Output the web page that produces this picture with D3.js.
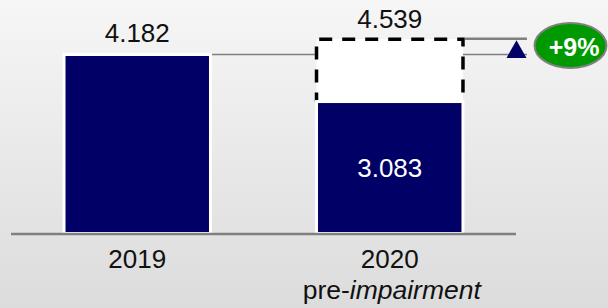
<!DOCTYPE html>
<html>
<head>
<meta charset="utf-8">
<script src="https://cdn.jsdelivr.net/npm/d3@7"></script>
<style>
  body { margin: 0; padding: 0; overflow: hidden; }
  svg { display: block; font-family: "Liberation Sans", Arial, sans-serif; }
</style>
</head>
<body>
<div id="chart"></div>
<script>
const years = ["2019", "2020"];
const reported = [4.182, 3.083];
const preImpairment = [null, 4.539];
const valueLabels = ["4.182", "3.083"];
const preLabel = "4.539";
const growthLabel = "+9%";

const width = 608;
const height = 308;

const svg = d3.select("#chart")
    .append("svg")
    .attr("width", width)
    .attr("height", height);

// background gradient
const grad = svg.append("defs").append("linearGradient")
    .attr("id", "bg")
    .attr("x1", 0).attr("y1", 0).attr("x2", 0).attr("y2", 1);
grad.append("stop").attr("offset", "0%").attr("stop-color", "#f6f6f6");
grad.append("stop").attr("offset", "100%").attr("stop-color", "#dcdcdc");

svg.append("rect")
    .attr("width", width)
    .attr("height", height)
    .attr("fill", "url(#bg)");

const xScale = d3.scaleBand()
    .domain(years)
    .range([11, 516])
    .paddingInner(0.42)
    .paddingOuter(0.21);

const yScale = d3.scaleLinear()
    .domain([0, 4.182])
    .range([233.5, 54.5]);

const bw = xScale.bandwidth();
const lineEnd = xScale("2020") + bw + 64;

// reference line at 2019 level
svg.append("line")
    .attr("x1", xScale("2019") + bw)
    .attr("x2", lineEnd)
    .attr("y1", yScale(reported[0]))
    .attr("y2", yScale(reported[0]))
    .attr("stroke", "#808080")
    .attr("stroke-width", 1.4);

// impairment box: white fill, dashed outline on three sides
const bx0 = xScale("2020");
const bx1 = bx0 + bw;
const by0 = yScale(preImpairment[1]);
const by1 = yScale(reported[1]);

svg.append("rect")
    .attr("x", bx0)
    .attr("y", by0)
    .attr("width", bw)
    .attr("height", by1 - by0)
    .attr("fill", "#fff");

svg.append("path")
    .attr("d", `M${bx0},${by1} L${bx0},${by0} L${bx1},${by0} L${bx1},${by1}`)
    .attr("fill", "none")
    .attr("stroke", "#000")
    .attr("stroke-width", 3.5)
    .attr("stroke-dasharray", "13,10")
    .attr("stroke-dashoffset", 4);

// bars
svg.selectAll("rect.bar")
    .data(years)
    .enter()
    .append("rect")
    .attr("class", "bar")
    .attr("x", d => xScale(d))
    .attr("y", (d, i) => yScale(reported[i]))
    .attr("width", bw)
    .attr("height", (d, i) => yScale(0) - yScale(reported[i]))
    .attr("fill", "#000066")
    .attr("stroke", "#fff")
    .attr("stroke-width", 3);

// axis baseline
svg.append("line")
    .attr("x1", xScale.range()[0])
    .attr("x2", xScale.range()[1])
    .attr("y1", yScale(0) + 0.5)
    .attr("y2", yScale(0) + 0.5)
    .attr("stroke", "#808080")
    .attr("stroke-width", 2.4);

// reference line at 2020 pre-impairment level
svg.append("line")
    .attr("x1", bx1 + 2)
    .attr("x2", lineEnd)
    .attr("y1", by0 - 0.5)
    .attr("y2", by0 - 0.5)
    .attr("stroke", "#808080")
    .attr("stroke-width", 2.4);

// up triangle
const triX = lineEnd - 10.5;
const triTop = by0 + 1;
const triBottom = yScale(reported[0]) + 3.5;
svg.append("path")
    .attr("d", `M${triX},${triTop} L${triX + 10},${triBottom} L${triX - 10},${triBottom} Z`)
    .attr("fill", "#000066");

// growth badge
svg.append("ellipse")
    .attr("cx", 570.5)
    .attr("cy", 45.5)
    .attr("rx", 36)
    .attr("ry", 22.5)
    .attr("fill", "#009900")
    .attr("stroke", "#808080")
    .attr("stroke-width", 2);

svg.append("text")
    .attr("x", 574)
    .attr("y", 56)
    .attr("text-anchor", "middle")
    .style("font-size", "25px")
    .style("font-weight", "bold")
    .style("fill", "#fff")
    .text(growthLabel);

// value labels
svg.append("text")
    .attr("x", xScale("2019") + bw / 2)
    .attr("y", 42)
    .attr("text-anchor", "middle")
    .style("font-size", "26px")
    .style("fill", "#111")
    .text(valueLabels[0]);

svg.append("text")
    .attr("x", bx0 + bw / 2)
    .attr("y", 28)
    .attr("text-anchor", "middle")
    .style("font-size", "26px")
    .style("fill", "#111")
    .text(preLabel);

svg.append("text")
    .attr("x", bx0 + bw / 2)
    .attr("y", 177)
    .attr("text-anchor", "middle")
    .style("font-size", "26px")
    .style("fill", "#fff")
    .text(valueLabels[1]);

// category labels
svg.selectAll("text.cat")
    .data(years)
    .enter()
    .append("text")
    .attr("class", "cat")
    .attr("x", d => xScale(d) + bw / 2)
    .attr("y", 268)
    .attr("text-anchor", "middle")
    .style("font-size", "26px")
    .style("fill", "#111")
    .text(d => d);

const sub = svg.append("text")
    .attr("x", bx0 + bw / 2 + 2)
    .attr("y", 299)
    .attr("text-anchor", "middle")
    .style("font-size", "26.5px")
    .style("fill", "#111");
sub.append("tspan").text("pre-");
sub.append("tspan").style("font-style", "italic").text("impairment");
</script>
</body>
</html>
